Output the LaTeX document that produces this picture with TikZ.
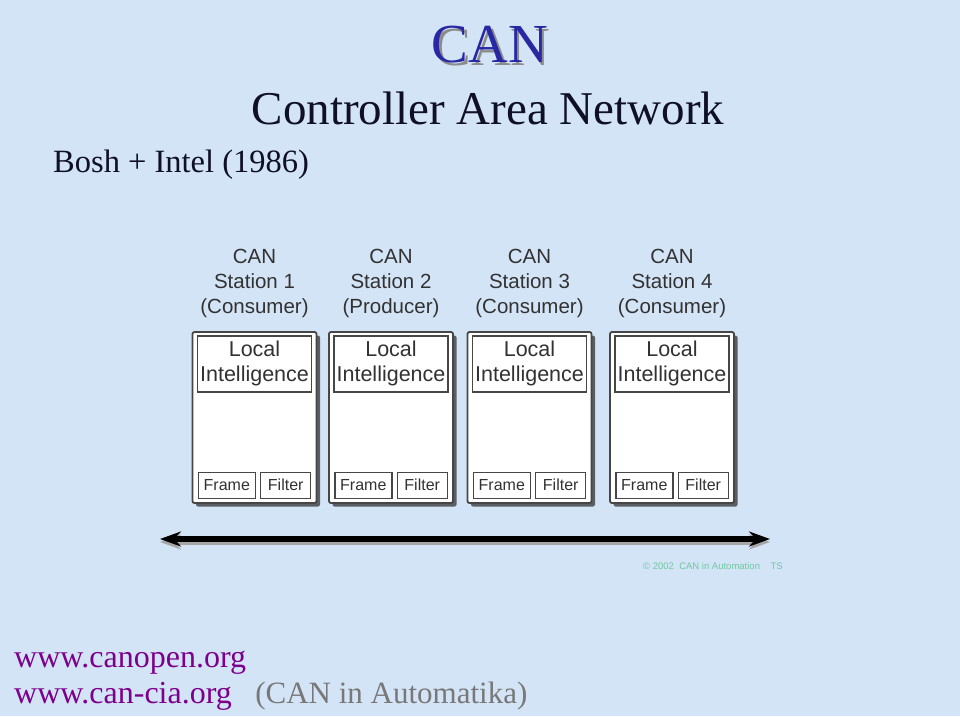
\documentclass[tikz,border=0pt]{standalone}
\usepackage{fontspec}
\setmainfont{Liberation Serif}
\setsansfont{Liberation Sans}
\usetikzlibrary{arrows.meta,shadows,positioning}
\definecolor{slidebg}{RGB}{211,228,246}
\definecolor{titleblue}{RGB}{40,40,165}
\definecolor{titleink}{RGB}{15,15,40}
\definecolor{urlpurple}{RGB}{125,0,140}
\definecolor{notegray}{RGB}{120,120,120}
\definecolor{boxgray}{RGB}{70,70,70}
\definecolor{textgray}{RGB}{50,50,50}
\definecolor{copygreen}{RGB}{110,200,160}
\newcommand\shadowtext[1]{\rlap{\color{black!45}\hspace{2.5pt}\raisebox{-2.5pt}{#1}}#1}

\begin{document}
\begin{tikzpicture}[x=1pt,y=-1pt,
  station/.style={draw=boxgray,line width=1.8pt,fill=white,rounded corners=2pt,
    minimum width=124pt,minimum height=171pt,inner sep=0pt,
    drop shadow={shadow xshift=3.5pt,shadow yshift=-3.5pt,fill=black!80,opacity=.75}},
  innerbox/.style={draw=boxgray,line width=1.4pt,fill=white,inner sep=0pt,
    font=\sffamily\fontsize{21.5}{25}\selectfont,text=textgray,align=center},
  smallbox/.style={innerbox,minimum height=26pt,font=\sffamily\fontsize{16}{18}\selectfont},
  stlabel/.style={font=\sffamily\fontsize{20.5}{25}\selectfont,text=textgray,align=center},
  bus/.style={line width=5.5pt,{Stealth[length=21pt,width=15pt]}-{Stealth[length=21pt,width=15pt]}}]
  % slide background
  \fill[slidebg] (0,0) rectangle (960,716);
  \useasboundingbox (0,0) rectangle (960,716);
  % titles
  \node[anchor=base,text=titleblue,font=\fontsize{55}{60}\selectfont] (title) at (490,62.5) {\shadowtext{CAN}};
  \node[anchor=base,text=titleink,font=\fontsize{47}{50}\selectfont] (subtitle) at (488,124) {Controller Area Network};
  \node[anchor=base west,inner sep=0pt,text=titleink,font=\fontsize{32.5}{35}\selectfont] (origin) at (53,172) {Bosh + Intel (1986)};
  % stations
  \foreach \n/\x/\role in {1/254.5/Consumer,2/391/Producer,3/529.5/Consumer,4/672/Consumer}{
    \node[station] (S\n) at (\x,417.5) {};
    \node[stlabel] (L\n) at (\x,283) {CAN\\Station \n\\(\role)};
    \node[innerbox,minimum width=114pt,minimum height=56pt,below=4pt of S\n.north] (LI\n) {Local\\Intelligence};
    \node[smallbox,minimum width=57pt,above right=5pt and 6pt of S\n.south west] (FR\n) {Frame};
    \node[smallbox,minimum width=50pt,above left=5pt and 6pt of S\n.south east] (FI\n) {Filter};
  }
  % bus line
  \coordinate (busL) at (160,539);
  \coordinate (busR) at (770,539);
  \draw[bus,black!35,transform canvas={yshift=-3pt}] (busL) -- (busR);
  \draw[bus,black] (busL) -- (busR);
  \node[anchor=base west,inner sep=0pt,text=copygreen,font=\sffamily\fontsize{9.5}{11}\selectfont] (copy) at (643,569)
    {\textcopyright\ 2002\ \ CAN in Automation\ \ \ \ TS};
  % links
  \node[anchor=base west,inner sep=0pt,text=urlpurple,font=\fontsize{32}{34}\selectfont] (url1) at (14,667) {www.canopen.org};
  \node[anchor=base west,inner sep=0pt,text=urlpurple,font=\fontsize{32}{34}\selectfont] (url2) at (14,703) {www.can-cia.org};
  \node[inner sep=0pt,text=notegray,font=\fontsize{31}{34}\selectfont,right=23pt of url2.base east,anchor=base west] (note) {(CAN in Automatika)};
\end{tikzpicture}
\end{document}
